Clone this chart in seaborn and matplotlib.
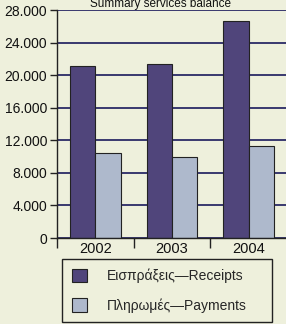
import matplotlib
matplotlib.use("Agg")
import matplotlib.pyplot as plt
import seaborn as sns
import pandas as pd
from matplotlib.ticker import FixedLocator, FuncFormatter

years = ["2002", "2003", "2004"]
receipts = [21100, 21400, 26700]
payments = [10400, 9900, 11250]
series_names = ["Εισπράξεις—Receipts", "Πληρωμές—Payments"]
y_ticks = [0, 4000, 8000, 12000, 16000, 20000, 24000, 28000]
title = "Summary services balance"

df = pd.DataFrame({
    "year": years * 2,
    "value": receipts + payments,
    "series": [series_names[0]] * 3 + [series_names[1]] * 3,
})

bg = "#eef0dc"
c_rec = "#4a3c84"
c_pay = "#a9b8d1"
navy = "#2b2a66"

sns.set_style("white")
plt.rcParams["font.family"] = ["Liberation Sans", "DejaVu Sans"]

W, H = 286, 324
fig = plt.figure(figsize=(W / 100, H / 100), dpi=100)
fig.patch.set_facecolor(bg)
ax = fig.add_axes([57 / W, 1 - 238 / H, 230 / W, 228 / H])
ax.set_facecolor(bg)

sns.barplot(data=df, x="year", y="value", hue="series", order=years,
            hue_order=series_names, palette=[c_rec, c_pay], width=0.66,
            gap=0, edgecolor="#222222", linewidth=0.8, ax=ax, legend=True)

ax.set_xlim(-0.5, 2.5)
ax.set_ylim(0, 28000)
ax.yaxis.set_major_locator(FixedLocator(y_ticks))
ax.yaxis.set_major_formatter(FuncFormatter(lambda v, p: f"{int(v):,}".replace(",", ".")))
ax.grid(axis="y", color=navy, linewidth=1.3, zorder=0)
ax.set_axisbelow(True)
for s in ["top", "right"]:
    ax.spines[s].set_visible(False)
for s in ["left", "bottom"]:
    ax.spines[s].set_color("#222222")
    ax.spines[s].set_linewidth(1.0)

# category boundary ticks (major) and centred labels (minor)
ax.xaxis.set_major_locator(FixedLocator([-0.5, 0.5, 1.5, 2.5]))
ax.xaxis.set_major_formatter(FuncFormatter(lambda v, p: ""))
ax.set_xticks([0, 1, 2], minor=True)
ax.set_xticklabels(years, minor=True)
ax.tick_params(axis="x", which="major", direction="out", length=7, width=1.0, color="#222222", bottom=True)
ax.tick_params(axis="x", which="minor", length=0, labelsize=10.5, pad=3, colors="#111111")
ax.tick_params(axis="y", direction="out", length=5, width=1.0, color="#222222", left=True,
               labelsize=10, pad=2, labelcolor="#111111")
ax.set_xlabel("")
ax.set_ylabel("")

handles, labels = ax.get_legend_handles_labels()
ax.get_legend().remove()
leg = fig.legend(handles, labels, loc="upper left",
                 bbox_to_anchor=(62 / W, 1 - 262 / H, 210 / W, 0.01), mode="expand",
                 bbox_transform=fig.transFigure, fontsize=10, frameon=True,
                 fancybox=False, edgecolor="#222222", facecolor=bg, framealpha=1,
                 handlelength=1.1, handleheight=1.1, handletextpad=1.4,
                 borderpad=0.7, labelspacing=1.1, borderaxespad=0)
leg.get_frame().set_linewidth(1.0)

fig.text(160 / W, 1 - 7.5 / H, title, ha="center", va="baseline", fontsize=8.5, color="#111111")

fig.savefig("out.png", dpi=100, facecolor=bg)
